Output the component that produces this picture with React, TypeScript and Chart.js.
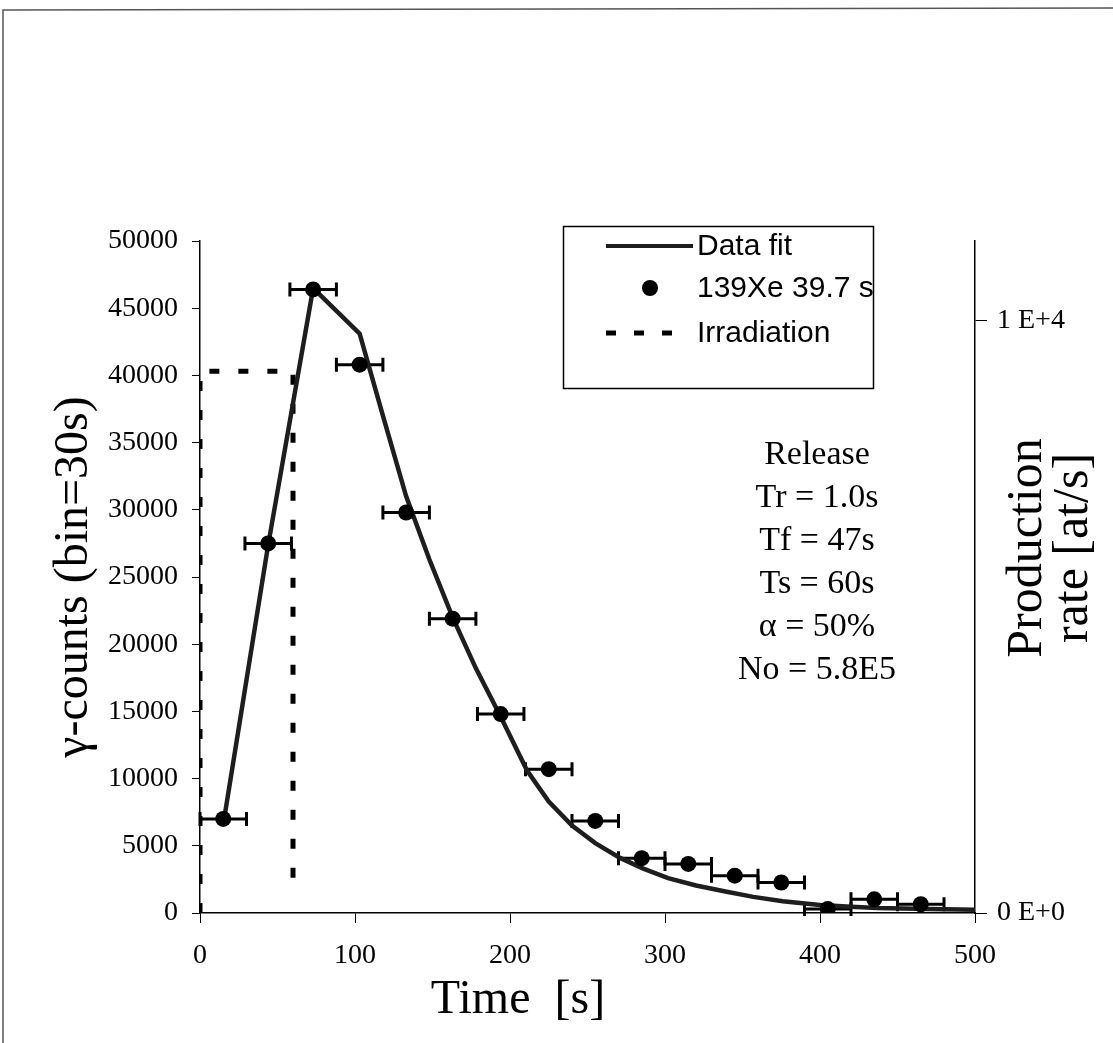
import React, { useEffect, useRef } from "react";
import { Chart, registerables } from "chart.js";

Chart.register(...registerables);

// ---- data ----
const binTime = [15, 44, 73, 103, 133, 163, 194, 225, 255, 285, 315, 345, 375, 405, 435, 465];
const counts = [7000, 27500, 46400, 40800, 29800, 21900, 14800, 10700, 6850, 4080, 3650, 2780, 2270, 300, 1020, 650];
const timeErr = [15, 15, 15, 15, 15, 15, 15, 15, 15, 15, 15, 15, 15, 15, 15, 15];

const fitTime = [16, 44, 73, 103, 118, 133, 148, 163, 178, 194, 211, 225, 240, 255, 271, 286, 302, 320, 339, 357, 376, 400, 420, 437, 470, 500];
const fitCounts = [7300, 27400, 46500, 43100, 37000, 31000, 26300, 22000, 18200, 14600, 10600, 8300, 6500, 5200, 4100, 3300, 2600, 2050, 1600, 1200, 870, 600, 470, 380, 300, 250];

const irrTime = [0, 0, 60, 60];
const irrCounts = [0, 40300, 40300, 1500];

const xTicks = [0, 100, 200, 300, 400, 500];
const rightTickValues = [0, 10000];
const rightTickLabels = ["0 E+0", "1 E+4"];
const legendLabels = ["Data fit", "139Xe 39.7 s", "Irradiation"];
const releaseLines = ["Release", "Tr = 1.0s", "Tf = 47s", "Ts = 60s", "\u03b1 = 50%", "No = 5.8E5"];
const xTitle = "Time  [s]";
const yTitle = "\u03b3-counts (bin=30s)";
const y2Title = ["Production", "rate [at/s]"];

const SERIF = '"Liberation Serif", "Times New Roman", serif';
const SANS = '"Liberation Sans", Arial, sans-serif';

const overlay = {
  id: "overlay",
  beforeDatasetsDraw(chart: any) {
    const ctx = chart.ctx;
    const xs = chart.scales.x;
    const ys = chart.scales.y;
    ctx.save();
    ctx.strokeStyle = "#000";
    ctx.lineWidth = 3;
    binTime.forEach((t, i) => {
      const x0 = xs.getPixelForValue(t - timeErr[i]);
      const x1 = xs.getPixelForValue(t + timeErr[i]);
      const y = ys.getPixelForValue(counts[i]);
      ctx.beginPath();
      ctx.moveTo(x0, y);
      ctx.lineTo(x1, y);
      ctx.moveTo(x0, y - 7);
      ctx.lineTo(x0, y + 7);
      ctx.moveTo(x1, y - 7);
      ctx.lineTo(x1, y + 7);
      ctx.stroke();
    });
    ctx.restore();
  },
  afterDraw(chart: any) {
    const ctx = chart.ctx;
    const area = chart.chartArea;
    ctx.save();
    ctx.fillStyle = "#000";
    ctx.textAlign = "center";
    ctx.textBaseline = "middle";

    // x title
    ctx.font = `48px ${SERIF}`;
    ctx.fillText(xTitle, 518, 1000);

    // y title
    ctx.save();
    ctx.translate(74, (area.top + area.bottom) / 2);
    ctx.rotate(-Math.PI / 2);
    ctx.font = `48px ${SERIF}`;
    ctx.fillText(yTitle, 0, 0);
    ctx.restore();

    // y2 title
    ctx.save();
    ctx.translate(1028, 548);
    ctx.rotate(-Math.PI / 2);
    ctx.font = `50px ${SERIF}`;
    ctx.fillText(y2Title[0], 0, 0);
    ctx.fillText(y2Title[1], 0, 46);
    ctx.restore();

    // release annotation
    ctx.font = `34px ${SERIF}`;
    releaseLines.forEach((s, i) => ctx.fillText(s, 817, 455 + i * 43));

    // legend
    ctx.fillStyle = "#fff";
    ctx.fillRect(563, 226, 310, 162);
    ctx.strokeStyle = "#000";
    ctx.lineWidth = 1.5;
    ctx.strokeRect(563.5, 226.5, 310, 162);
    ctx.fillStyle = "#000";
    ctx.textAlign = "left";
    ctx.font = `30px ${SANS}`;
    const rows = [246, 288, 333];
    ctx.strokeStyle = "#1e1e1e";
    ctx.lineWidth = 4;
    ctx.beginPath();
    ctx.moveTo(606, rows[0]);
    ctx.lineTo(693, rows[0]);
    ctx.stroke();
    ctx.beginPath();
    ctx.arc(650, rows[1], 8, 0, Math.PI * 2);
    ctx.fill();
    ctx.lineWidth = 5;
    ctx.strokeStyle = "#000";
    [606, 634, 662].forEach((x) => {
      ctx.beginPath();
      ctx.moveTo(x, rows[2]);
      ctx.lineTo(x + 10, rows[2]);
      ctx.stroke();
    });
    legendLabels.forEach((s, i) => ctx.fillText(s, 697, rows[i] + 1));

    // page frame
    ctx.strokeStyle = "#555";
    ctx.lineWidth = 1.5;
    ctx.beginPath();
    ctx.moveTo(3, 1043);
    ctx.lineTo(3, 10);
    ctx.lineTo(1113, 8);
    ctx.stroke();
    ctx.restore();
  },
};

export default function App() {
  const ref = useRef<HTMLCanvasElement | null>(null);
  useEffect(() => {
    if (!ref.current) return;
    const chart = new Chart(ref.current, {
      type: "scatter",
      data: {
        datasets: [
          {
            label: legendLabels[1],
            data: binTime.map((t, i) => ({ x: t, y: counts[i] })),
            pointRadius: 8,
            pointHoverRadius: 8,
            backgroundColor: "#000",
            borderWidth: 0,
            showLine: false,
            order: 0,
          } as any,
          {
            label: legendLabels[0],
            data: fitTime.map((t, i) => ({ x: t, y: fitCounts[i] })),
            showLine: true,
            borderColor: "#1e1e1e",
            borderWidth: 4.5,
            pointRadius: 0,
            tension: 0,
            order: 1,
          } as any,
          {
            label: legendLabels[2],
            data: irrTime.map((t, i) => ({ x: t, y: irrCounts[i] })),
            showLine: true,
            borderColor: "#000",
            borderWidth: 5,
            borderDash: [10, 19],
            borderCapStyle: "butt",
            pointRadius: 0,
            order: 2,
          } as any,
        ],
      },
      options: {
        responsive: false,
        animation: false,
        devicePixelRatio: 1,
        layout: { padding: { top: 241, left: 0, right: 0, bottom: 0 } },
        plugins: { legend: { display: false }, tooltip: { enabled: false } },
        scales: {
          x: {
            type: "linear",
            min: 0,
            max: 500,
            afterBuildTicks: (s: any) => {
              s.ticks = xTicks.map((v) => ({ value: v }));
            },
            afterFit: (s: any) => {
              s.height = 130;
            },
            ticks: { font: { family: SERIF, size: 28 }, color: "#000", padding: 16, maxRotation: 0 },
            grid: { drawOnChartArea: false, tickLength: 10, color: "#000", lineWidth: 1 },
            border: { color: "#000", width: 1.5 },
          },
          y: {
            position: "left",
            min: 0,
            max: 50000,
            afterFit: (s: any) => {
              s.width = 200;
            },
            ticks: {
              stepSize: 5000,
              font: { family: SERIF, size: 28 },
              color: "#000",
              padding: 14,
              callback: (v: any) => String(v),
            },
            grid: { drawOnChartArea: false, tickLength: 8, color: "#000", lineWidth: 1 },
            border: { color: "#000", width: 1.5 },
          },
          y2: {
            position: "right",
            min: 0,
            max: 11351,
            afterBuildTicks: (s: any) => {
              s.ticks = rightTickValues.map((v) => ({ value: v }));
            },
            afterFit: (s: any) => {
              s.width = 138;
            },
            ticks: {
              font: { family: SERIF, size: 28 },
              color: "#000",
              padding: 10,
              callback: (v: any) => rightTickLabels[rightTickValues.indexOf(v)],
            },
            grid: { drawOnChartArea: false, tickLength: 12, color: "#000", lineWidth: 1 },
            border: { color: "#000", width: 1.5 },
          },
        },
      },
      plugins: [overlay],
    } as any);
    return () => chart.destroy();
  }, []);
  return (
    <div style={{ position: "absolute", left: 0, top: 0, width: 1113, height: 1043, background: "#fff" }}>
      <canvas ref={ref} width={1113} height={1043} style={{ display: "block" }} />
    </div>
  );
}
